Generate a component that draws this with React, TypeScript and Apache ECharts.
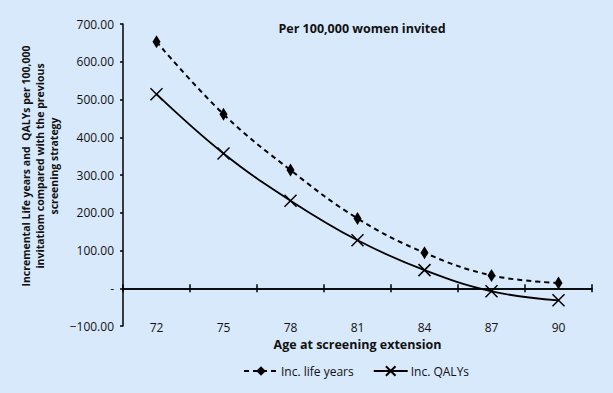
import React, { useEffect, useRef } from 'react';
import * as echarts from 'echarts';

const ages = ['72', '75', '78', '81', '84', '87', '90'];
const lifeYears = [653, 461, 313, 185, 94, 34, 14];
const qalys = [514, 357, 232, 127, 48, -8, -32];
const yMin = -100;
const yMax = 700;
const yStep = 100;
const chartTitle = 'Per 100,000 women invited';
const xName = 'Age at screening extension';
const yNameLines = [
  'Incremental Life years and  QALYs per 100,000',
  'invitatiom compared with the previous',
  'screening strategy',
];
const seriesNames = ['Inc. life years', 'Inc. QALYs'];

const FONT = '"Open Sans", Lato, sans-serif';
const INK = '#111';

export default function App() {
  const ref = useRef<HTMLDivElement>(null);
  useEffect(() => {
    document.body.style.margin = '0';
    const chart = echarts.init(ref.current!, null, { renderer: 'svg' });
    const axisLineStyle = { color: '#000', width: 1.5 };
    const zeroAxis = (position: 'top' | 'bottom') => ({
      type: 'category',
      data: ages,
      boundaryGap: true,
      position,
      axisLine: { show: true, onZero: true, onZeroAxisIndex: 0, lineStyle: axisLineStyle },
      axisTick: { show: true, length: 4, lineStyle: axisLineStyle },
      axisLabel: { show: false },
      splitLine: { show: false },
    });
    chart.setOption({
      animation: false,
      backgroundColor: '#d8e9fb',
      textStyle: { fontFamily: FONT },
      title: {
        text: chartTitle,
        left: 357,
        top: 17,
        textAlign: 'center',
        textStyle: { fontFamily: FONT, fontSize: 12.5, fontWeight: 'bold', color: INK },
      },
      grid: { left: 123, right: 21, top: 24, bottom: 67, containLabel: false },
      legend: {
        left: 238,
        top: 360,
        itemWidth: 34,
        itemHeight: 12,
        itemGap: 19,
        textStyle: { fontFamily: FONT, fontSize: 12, color: INK, padding: [0, 0, 0, -2] },
        data: seriesNames,
      },
      xAxis: [
        {
          type: 'category',
          data: ages,
          boundaryGap: true,
          position: 'bottom',
          axisLine: { show: false, onZero: false },
          axisTick: { show: false },
          axisLabel: { margin: -5, fontSize: 12, color: INK, fontFamily: FONT },
          name: xName,
          nameLocation: 'middle',
          nameGap: 10,
          nameTextStyle: { fontFamily: FONT, fontSize: 12.5, fontWeight: 'bold', color: INK },
          splitLine: { show: false },
        },
        zeroAxis('bottom'),
        zeroAxis('top'),
      ],
      yAxis: {
        type: 'value',
        min: yMin,
        max: yMax,
        interval: yStep,
        axisLine: { show: true, onZero: false, lineStyle: axisLineStyle },
        axisTick: { show: true, length: 3, lineStyle: axisLineStyle },
        splitLine: { show: false },
        axisLabel: {
          margin: 9,
          fontSize: 12,
          color: INK,
          fontFamily: FONT,
          formatter: (v: number) => (v === 0 ? '-' : v < 0 ? '\u2212' + Math.abs(v).toFixed(2) : v.toFixed(2)),
        },
      },
      graphic: [
        {
          type: 'text',
          x: 40,
          y: 166,
          rotation: Math.PI / 2,
          style: {
            text: yNameLines.join('\n'),
            align: 'center',
            verticalAlign: 'middle',
            fontFamily: FONT,
            fontSize: 10.5,
            fontWeight: 'bold',
            lineHeight: 14,
            fill: INK,
          },
        },
      ],
      series: [
        {
          name: seriesNames[0],
          type: 'line',
          data: lifeYears,
          smooth: 0.4,
          symbol: 'diamond',
          symbolSize: [8, 13],
          lineStyle: { color: '#000', width: 2, type: [5, 4] },
          itemStyle: { color: '#000' },
          z: 3,
        },
        {
          name: seriesNames[1],
          type: 'line',
          data: qalys,
          smooth: 0.4,
          symbol: 'path://M0,0L10,10M10,0L0,10',
          symbolSize: 12,
          lineStyle: { color: '#000', width: 1.8, type: 'solid' },
          itemStyle: { color: '#000', borderColor: '#000', borderWidth: 1.5 },
          z: 3,
        },
      ],
    });
    return () => chart.dispose();
  }, []);
  return <div ref={ref} style={{ width: 613, height: 393 }} />;
}
